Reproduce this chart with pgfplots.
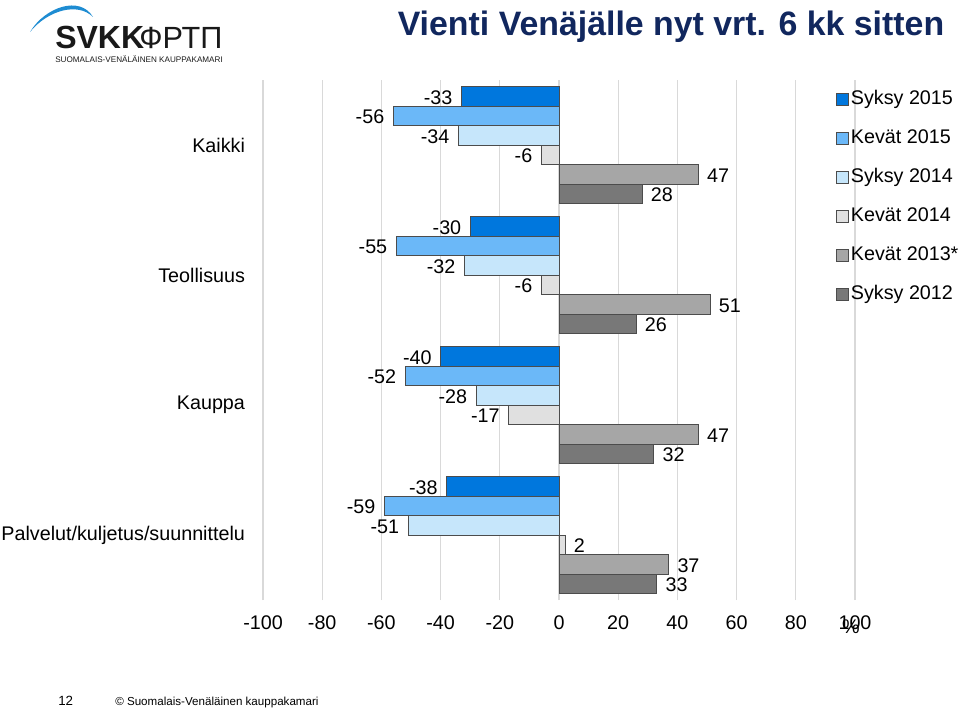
\documentclass[border=0pt]{standalone}
\usepackage{pgfplots}
\pgfplotsset{compat=1.18}
\usepackage{fontspec}
\setmainfont{Liberation Sans}
\definecolor{cA}{RGB}{0,119,221}
\definecolor{cB}{RGB}{107,184,248}
\definecolor{cC}{RGB}{198,230,251}
\definecolor{cD}{RGB}{224,224,224}
\definecolor{cE}{RGB}{166,166,166}
\definecolor{cF}{RGB}{120,120,120}
\definecolor{titleblue}{RGB}{17,39,94}
\definecolor{logoblue}{RGB}{30,140,210}
\definecolor{gridgray}{RGB}{217,217,217}
\newcommand{\fs}{\fontsize{14.8}{17}\selectfont}
\begin{document}
\begin{tikzpicture}
\useasboundingbox (0,0) rectangle (719.25pt,533.25pt);
\begin{axis}[
  at={(197.25pt,83.25pt)}, anchor=south west,
  scale only axis, width=444pt, height=390pt,
  xbar=0pt, bar width=14.6pt,
  xmin=-100, xmax=100, ymin=-0.5, ymax=3.5,
  xtick={-100,-80,...,100},
  ytick={0,1,2,3},
  yticklabels={Palvelut/kuljetus/suunnittelu,Kauppa,Teollisuus,Kaikki},
  axis line style={draw=none},
  major tick length=0pt,
  xmajorgrids, grid style={gridgray, line width=0.8pt},
  tick label style={font=\fs, text=black},
  xticklabel style={yshift=-8pt},
  yticklabel style={xshift=-10pt},
  /pgf/number format/assume math mode=true,
  nodes near coords, nodes near coords align=horizontal,
  every node near coord/.append style={font=\fs, text=black, draw=none, inner xsep=6.5pt, yshift=-1pt},
  legend style={at={(rel axis cs:0.960,0.994)}, anchor=north west, draw=none, fill=none,
    font=\fs, row sep=11.7pt, inner sep=3pt,
    nodes={inner sep=2pt, text height=10.6pt, text depth=3pt}},
  legend cell align=left,
  reverse legend,
  legend image code/.code={\draw[#1] (0pt,-4.5pt) rectangle (9pt,4.5pt);},
]
\addplot[fill=cF, draw=black!70, line width=0.5pt] coordinates {(28,3) (26,2) (32,1) (33,0)};
\addplot[fill=cE, draw=black!70, line width=0.5pt] coordinates {(47,3) (51,2) (47,1) (37,0)};
\addplot[fill=cD, draw=black!70, line width=0.5pt] coordinates {(-6,3) (-6,2) (-17,1) (2,0)};
\addplot[fill=cC, draw=black!70, line width=0.5pt] coordinates {(-34,3) (-32,2) (-28,1) (-51,0)};
\addplot[fill=cB, draw=black!70, line width=0.5pt] coordinates {(-56,3) (-55,2) (-52,1) (-59,0)};
\addplot[fill=cA, draw=black!70, line width=0.5pt] coordinates {(-33,3) (-30,2) (-40,1) (-38,0)};
\legend{Syksy 2012,Kevät 2013*,Kevät 2014,Syksy 2014,Kevät 2015,Syksy 2015}
\end{axis}
\begin{scope}[x=0.75pt,y=-0.75pt,shift={(0pt,533.25pt)}]
  \node[font=\fs] at (851,627) {\%};
  \node[anchor=base, font=\fontsize{25.4}{30}\selectfont\bfseries, text=titleblue] at (671,36) {Vienti Venäjälle nyt vrt. 6 kk sitten};
  % logo
  \fill[logoblue] (30,32) .. controls (45,7) and (80,-5) .. (93,17) .. controls (78,2) and (48,10) .. cycle;
  \node[anchor=base west, inner sep=0pt, font=\fontsize{24}{28}\selectfont\bfseries, text=black!90] at (55,49) {SVKK};
  \node[anchor=base west, inner sep=0pt, font=\fontsize{23}{28}\selectfont, text=black!90] at (139,49) {ФРТП};
  \node[anchor=base west, inner sep=0pt, font=\fontsize{6.1}{7}\selectfont, text=black!90] at (55,63) {SUOMALAIS-VENÄLÄINEN KAUPPAKAMARI};
  % footer
  \node[anchor=base west, inner sep=0pt, font=\fontsize{10}{12}\selectfont] at (58,705) {12};
  \node[anchor=base west, inner sep=0pt, font=\fontsize{8.7}{11}\selectfont] at (115,705) {© Suomalais-Venäläinen kauppakamari};
\end{scope}
\end{tikzpicture}
\end{document}
